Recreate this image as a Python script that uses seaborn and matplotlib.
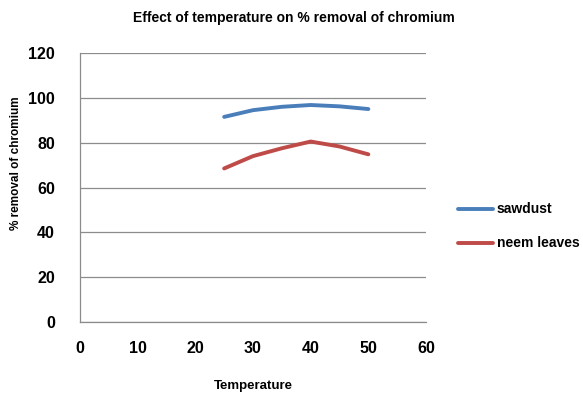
import matplotlib
matplotlib.use("Agg")
import matplotlib.pyplot as plt
import seaborn as sns
import pandas as pd

temperature = [25, 30, 35, 40, 45, 50]
sawdust = [91.5, 94.5, 96.0, 96.8, 96.2, 95.0]
neem_leaves = [68.5, 74.0, 77.5, 80.5, 78.3, 74.8]
series_names = ["sawdust", "neem leaves"]
colors = ["#4a7ebb", "#be4b48"]

df = pd.DataFrame({
    "Temperature": temperature * 2,
    "value": sawdust + neem_leaves,
    "series": [series_names[0]] * len(temperature) + [series_names[1]] * len(temperature),
})

sns.set_style("white")
plt.rcParams["font.family"] = ["Liberation Sans", "DejaVu Sans"]
plt.rcParams["text.color"] = "black"
plt.rcParams["xtick.color"] = "black"
plt.rcParams["ytick.color"] = "black"

fig = plt.figure(figsize=(5.83, 3.94), dpi=100)
ax = fig.add_axes([80 / 583, 72 / 394, 346 / 583, 269 / 394])

sns.lineplot(data=df, x="Temperature", y="value", hue="series",
             palette=colors, linewidth=2.8, ax=ax, legend=False)

ax.set_xlim(0, 60)
ax.set_ylim(0, 120)
ax.set_xticks(range(0, 61, 10))
ax.set_yticks(range(0, 121, 20))
ax.yaxis.grid(True, color="#8c8c8c", linewidth=0.9)
ax.set_axisbelow(True)
for s in ["top", "right"]:
    ax.spines[s].set_visible(False)
for s in ["left", "bottom"]:
    ax.spines[s].set_color("#8c8c8c")
    ax.spines[s].set_linewidth(0.9)
ax.tick_params(axis="both", length=0, labelsize=11.5, labelcolor="black")
ax.tick_params(axis="y", pad=18)
ax.tick_params(axis="x", pad=14)
for lab in ax.get_xticklabels() + ax.get_yticklabels():
    lab.set_fontweight("bold")

ax.set_xlabel("")
ax.set_ylabel("")
fig.text(16 / 583, 1 - 163 / 394, "% removal of chromium", rotation=90,
         ha="center", va="center", fontsize=8.5, fontweight="bold", color="black")
fig.text(253 / 583, 1 - 386 / 394, "Temperature", ha="center", va="center",
         fontsize=9.5, fontweight="bold", color="black")
fig.text(294 / 583, 1 - 18 / 394, "Effect of temperature on % removal of chromium",
         ha="center", va="center", fontsize=10, fontweight="bold", color="black")

# legend drawn in figure coordinates to the right of the plot
for i, (name, c) in enumerate(zip(series_names, colors)):
    y = 1 - (209 + 34 * i) / 394
    fig.add_artist(plt.Line2D([458 / 583, 493 / 583], [y, y], color=c, linewidth=2.8))
    fig.text(497 / 583, y, name, ha="left", va="center", fontsize=10,
             fontweight="bold", color="black")

fig.savefig("out.png", dpi=100)
